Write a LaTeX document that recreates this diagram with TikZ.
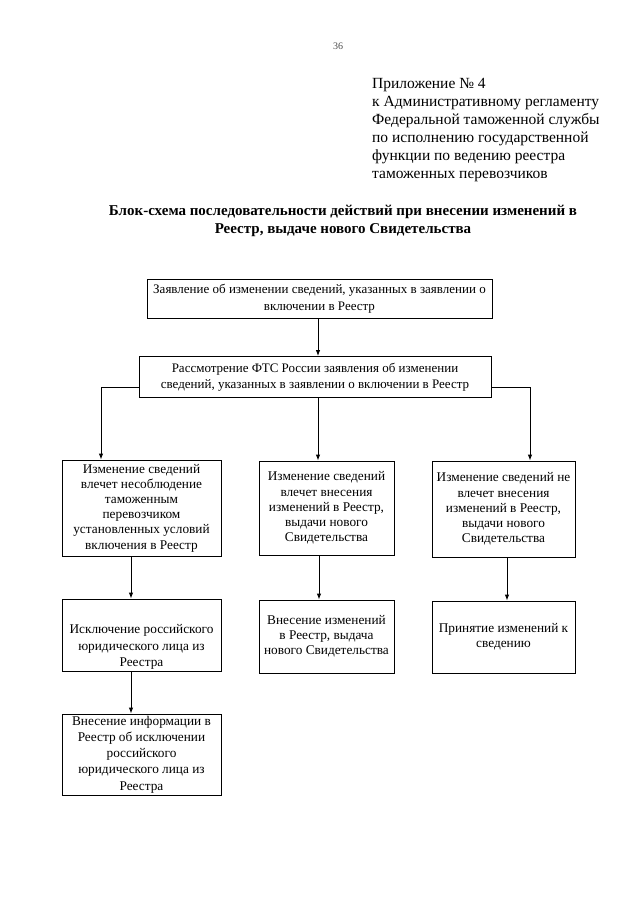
\documentclass[tikz,border=0pt]{standalone}
\usepackage{fontspec}
\setmainfont{Liberation Serif}
\usetikzlibrary{arrows.meta}
\begin{document}
\begin{tikzpicture}[x=1pt,y=-1pt,
  box/.style={draw, line width=0.9pt, inner sep=0pt, align=center, font=\fontsize{13.3}{15.2}\selectfont},
  arr/.style={draw, line width=0.9pt, -{Latex[length=6pt,width=4.5pt]}},
  plain/.style={inner sep=0pt}]
\useasboundingbox (0,0) rectangle (640,900);
\node[plain, font=\fontsize{10}{10}\selectfont, text=black!70] (pg) at (338,46) {36};
\node[plain, anchor=north west, align=left, font=\fontsize{15.5}{18}\selectfont] (hdr) at (372,78)
  {Приложение № 4\\к Административному регламенту\\Федеральной таможенной службы\\по исполнению государственной\\функции по ведению реестра\\таможенных перевозчиков};
\node[plain, align=center, font=\bfseries\fontsize{15}{17.5}\selectfont] (title) at (343,221)
  {Блок-схема последовательности действий при внесении изменений в\\Реестр, выдаче нового Свидетельства};

\node[box, minimum width=345pt, minimum height=39pt, font=\fontsize{13}{16.5}\selectfont] (b1) at (319.5,298.5)
  {Заявление об изменении сведений, указанных в заявлении о\\включении в Реестр};
\node[box, minimum width=352pt, minimum height=41pt, font=\fontsize{13}{16.5}\selectfont] (b2) at (315,377)
  {Рассмотрение ФТС России заявления об изменении\\сведений, указанных в заявлении о включении в Реестр};

\node[box, minimum width=159pt, minimum height=96pt] (l3) at (141.5,508)
  {Изменение сведений\\влечет несоблюдение\\таможенным\\перевозчиком\\установленных условий\\включения в Реестр};
\node[box, minimum width=135pt, minimum height=94pt] (m3) at (326.5,508)
  {Изменение сведений\\влечет внесения\\изменений в Реестр,\\выдачи нового\\Свидетельства};
\node[box, minimum width=143pt, minimum height=96pt] (r3) at (503.5,509)
  {Изменение сведений не\\влечет внесения\\изменений в Реестр,\\выдачи нового\\Свидетельства};

\node[box, minimum width=159pt, minimum height=72pt] (l4) at (141.5,635) {};
\node[plain, align=center, font=\fontsize{13.3}{16.5}\selectfont] (l4t) at (141.5,647)
  {Исключение российского\\юридического лица из\\Реестра};
\node[box, minimum width=135pt, minimum height=73pt] (m4) at (326.5,636.5)
  {Внесение изменений\\в Реестр, выдача\\нового Свидетельства};
\node[box, minimum width=143pt, minimum height=72pt] (r4) at (503.5,637)
  {Принятие изменений к\\сведению};

\node[box, minimum width=159pt, minimum height=81pt, font=\fontsize{13.3}{16.2}\selectfont] (l5) at (141.5,754.5)
  {Внесение информации в\\Реестр об исключении\\российского\\юридического лица из\\Реестра};

\draw[arr] ([xshift=-1.5pt]b1.south) -- ([xshift=-1.5pt]b1.south |- b2.north);
\draw[arr] ([yshift=-10pt]b2.west) -| ([xshift=-40.5pt]l3.north);
\draw[arr] ([yshift=-10pt]b2.east) -| ([xshift=26.5pt]r3.north);
\draw[arr] ([xshift=3pt]b2.south) -- ([xshift=3pt]b2.south |- m3.north);
\draw[arr] ([xshift=-10.5pt]l3.south) -- ([xshift=-10.5pt]l4.north);
\draw[arr] ([xshift=-7.5pt]m3.south) -- ([xshift=-7.5pt]m4.north);
\draw[arr] ([xshift=3.5pt]r3.south) -- ([xshift=3.5pt]r4.north);
\draw[arr] ([xshift=-10.5pt]l4.south) -- ([xshift=-10.5pt]l5.north);
\end{tikzpicture}
\end{document}
